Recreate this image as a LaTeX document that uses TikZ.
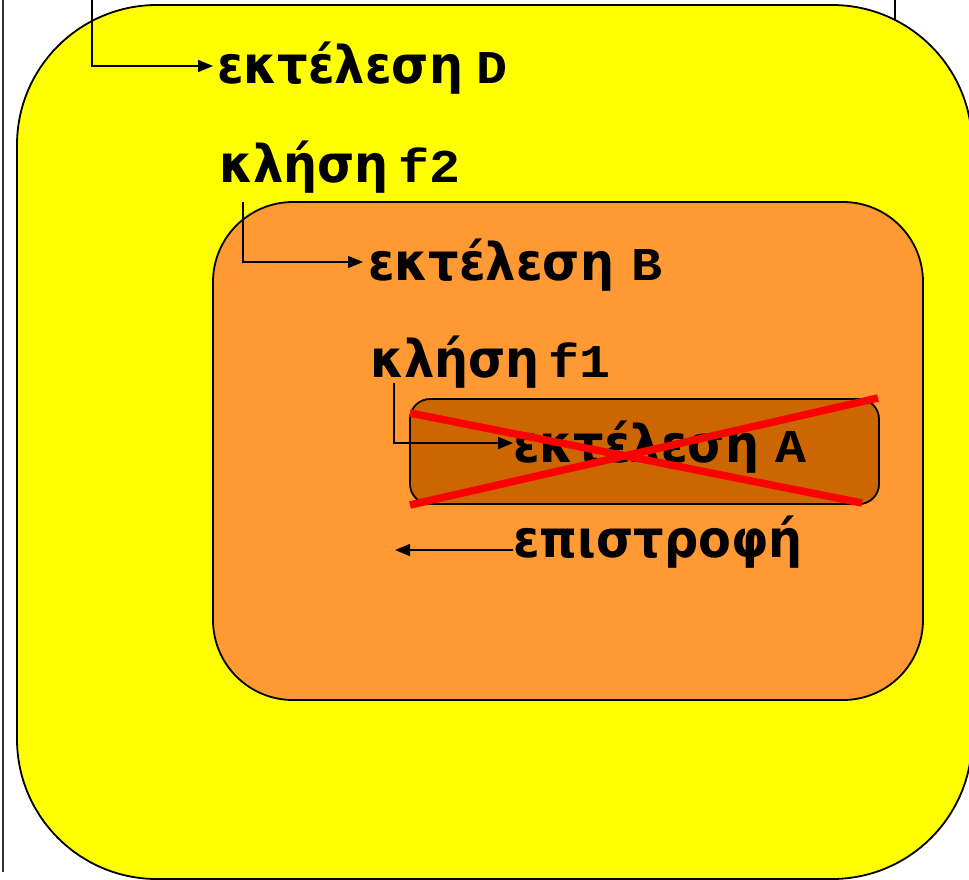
\documentclass[tikz,border=0pt]{standalone}
\usepackage{fontspec}
\setmainfont{DejaVu Sans}
\newfontfamily\gfont{DejaVu Sans}[FakeStretch=0.92]
\newfontfamily\monof{Liberation Mono}[FakeStretch=1.1]
\usetikzlibrary{arrows.meta}
\definecolor{yel}{HTML}{FFFF00}
\definecolor{org}{HTML}{FF9933}
\definecolor{dorg}{HTML}{CC6600}
\definecolor{xred}{HTML}{FF0000}
\tikzset{
  gtext/.style={anchor=base west, inner sep=0pt, font=\gfont\fontsize{52}{56}\selectfont\bfseries},
  arr/.style={draw=black, line width=1.6pt, -{Triangle[length=15pt,width=12pt]}},
  box/.style={draw=black, line width=1.8pt},
  cross/.style={draw=xred, line width=7.5pt},
}
\newcommand{\mono}[2]{\hspace{#1}{\monof\bfseries\fontsize{47}{50}\selectfont #2}}
\begin{document}
\begin{tikzpicture}[x=1pt,y=-1pt]
\useasboundingbox (0,0) rectangle (969,879);
% frame lines behind
\draw[line width=1.5pt, draw=black!80] (3,0) -- (3,872);
\draw[line width=1.2pt] (895,0) -- (895,40);
% boxes
\draw[box, fill=yel, rounded corners=140pt] (17,5) rectangle (972,879);
\draw[box, fill=org, rounded corners=80pt] (213,202) rectangle (923,700);
\draw[box, fill=dorg, rounded corners=20pt] (410,399) rectangle (879,504);
% texts
\node[gtext] (t1) at (217,83) {εκτέλεση\mono{13pt}{D}};
\node[gtext] (t2) at (219,182) {κλήση\mono{10pt}{f2}};
\node[gtext] (t3) at (368,280) {εκτέλεση\mono{17pt}{B}};
\node[gtext] (t4) at (370,377) {κλήση\mono{9pt}{f1}};
\node[gtext] (t5) at (513,462) {εκτέλεση\mono{16pt}{A}};
\node[gtext] (t6) at (513,557) {επιστροφή};
% connectors
\coordinate (s1) at (92,0);
\coordinate (s2) at (243,202);
\coordinate (s3) at (394,383);
\coordinate (e4) at (395,550);
\draw[arr] (s1) |- ([xshift=-4pt,yshift=17pt]t1.base west);
\draw[arr] (s2) |- ([xshift=-5pt,yshift=18pt]t3.base west);
\draw[arr] (s3) |- ([xshift=0pt,yshift=19pt]t5.base west);
\draw[arr] ([yshift=7pt]t6.base west) -- (e4);
% red cross
\coordinate (x1) at (410,413);
\coordinate (x2) at (862,503);
\coordinate (x3) at (410,505);
\coordinate (x4) at (878,398);
\draw[cross] (x1) -- (x2);
\draw[cross] (x3) -- (x4);
\end{tikzpicture}
\end{document}
